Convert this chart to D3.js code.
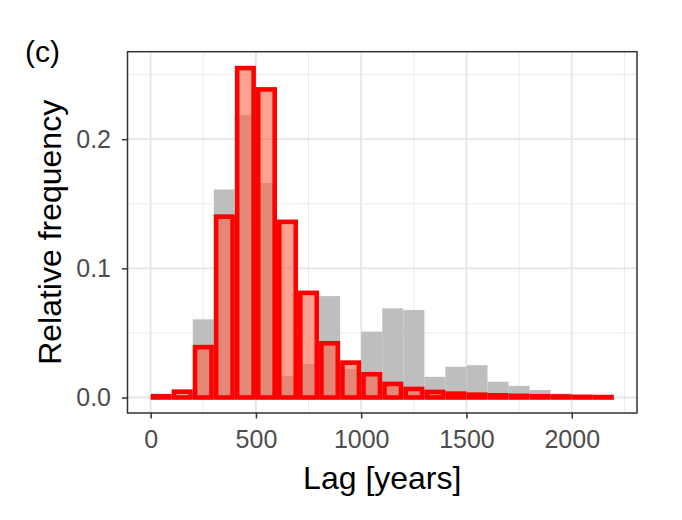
<!DOCTYPE html>
<html>
<head>
<meta charset="utf-8">
<script src="https://cdn.jsdelivr.net/npm/d3@7"></script>
<style>
  body { margin: 0; background: #fff; }
  svg { display: block; font-family: "Liberation Sans", Arial, sans-serif; }
</style>
</head>
<body>
<div id="chart"></div>
<script>
// bin starts (years), each bin is 100 years wide
var binStarts = [0, 100, 200, 300, 400, 500, 600, 700, 800, 900, 1000,
                 1100, 1200, 1300, 1400, 1500, 1600, 1700, 1800, 1900, 2000, 2100];
var binWidth = 100;

// grey histogram (relative frequency)
var greyFreq = [0, 0.001, 0.0605, 0.161, 0.2185, 0.166, 0.0166, 0.026, 0.0785, 0.022, 0.051,
                0.069, 0.0677, 0.016, 0.0238, 0.025, 0.0122, 0.009, 0.0058, 0.003, 0.001, 0];

// red histogram (relative frequency)
var redFreq = [0.001, 0.0045, 0.039, 0.140, 0.255, 0.2385, 0.136, 0.081, 0.042, 0.027, 0.018,
               0.0105, 0.0066, 0.0043, 0.003, 0.0022, 0.0017, 0.0013, 0.001, 0.0008, 0.0005, 0.0003];

var xMajor = [0, 500, 1000, 1500, 2000];
var xMinor = [250, 750, 1250, 1750, 2250];
var yMajor = [0, 0.1, 0.2];
var yMinor = [0.05, 0.15, 0.25];

var width = 682, height = 520;
var panel = { left: 127.5, right: 637, top: 51.7, bottom: 413 };
var strokeW = 4.6;

var svg = d3.select('#chart')
  .append('svg')
  .attr('width', width)
  .attr('height', height);

var x = d3.scaleLinear().domain([-110, 2310]).range([panel.left, panel.right]);
var y = d3.scaleLinear().domain([-0.012, 0.2677]).range([panel.bottom, panel.top]);

// panel background + grid
svg.append('rect')
  .attr('x', panel.left).attr('y', panel.top)
  .attr('width', panel.right - panel.left)
  .attr('height', panel.bottom - panel.top)
  .attr('fill', '#fff');

var grid = svg.append('g').attr('class', 'grid');
grid.selectAll('line.xminor').data(xMinor).enter().append('line')
  .attr('x1', function (d) { return x(d); }).attr('x2', function (d) { return x(d); })
  .attr('y1', panel.top).attr('y2', panel.bottom)
  .attr('stroke', '#ebebeb').attr('stroke-width', 1);
grid.selectAll('line.yminor').data(yMinor).enter().append('line')
  .attr('y1', function (d) { return y(d); }).attr('y2', function (d) { return y(d); })
  .attr('x1', panel.left).attr('x2', panel.right)
  .attr('stroke', '#ebebeb').attr('stroke-width', 1);
grid.selectAll('line.xmajor').data(xMajor).enter().append('line')
  .attr('x1', function (d) { return x(d); }).attr('x2', function (d) { return x(d); })
  .attr('y1', panel.top).attr('y2', panel.bottom)
  .attr('stroke', '#e6e6e6').attr('stroke-width', 1.8);
grid.selectAll('line.ymajor').data(yMajor).enter().append('line')
  .attr('y1', function (d) { return y(d); }).attr('y2', function (d) { return y(d); })
  .attr('x1', panel.left).attr('x2', panel.right)
  .attr('stroke', '#e6e6e6').attr('stroke-width', 1.8);

// grey bars
svg.append('g').selectAll('rect')
  .data(binStarts).enter()
  .append('rect')
  .attr('x', function (d) { return x(d); })
  .attr('width', function (d) { return x(d + binWidth) - x(d); })
  .attr('y', function (d, i) { return y(greyFreq[i]); })
  .attr('height', function (d, i) { return y(0) - y(greyFreq[i]); })
  .attr('fill', '#bebebe');

// red outlined bars
svg.append('g').selectAll('rect')
  .data(binStarts).enter()
  .append('rect')
  .attr('x', function (d) { return x(d) + strokeW / 2; })
  .attr('width', function (d) { return x(d + binWidth) - x(d) - strokeW; })
  .attr('y', function (d, i) { return y(redFreq[i]); })
  .attr('height', function (d, i) { return y(0) - y(redFreq[i]); })
  .attr('fill', '#ff6347')
  .attr('fill-opacity', 0.6)
  .attr('stroke', '#ff0000')
  .attr('stroke-width', strokeW);

// panel border
svg.append('rect')
  .attr('x', panel.left).attr('y', panel.top)
  .attr('width', panel.right - panel.left)
  .attr('height', panel.bottom - panel.top)
  .attr('fill', 'none')
  .attr('stroke', '#333')
  .attr('stroke-width', 1.5);

// axes
var xAxis = svg.append('g')
  .attr('transform', 'translate(0,' + panel.bottom + ')')
  .call(d3.axisBottom(x).tickValues(xMajor).tickSize(5.5).tickPadding(11.5).tickFormat(d3.format('d')));
var yAxis = svg.append('g')
  .attr('transform', 'translate(' + panel.left + ',0)')
  .call(d3.axisLeft(y).tickValues(yMajor).tickSize(5.5).tickPadding(11).tickFormat(d3.format('.1f')));

[xAxis, yAxis].forEach(function (ax) {
  ax.select('.domain').remove();
  ax.selectAll('.tick line').attr('stroke', '#333').attr('stroke-width', 1.5);
  ax.selectAll('.tick text')
    .attr('fill', '#4d4d4d')
    .style('font-size', '25px')
    .style('font-family', '"Liberation Sans", Arial, sans-serif');
});

// axis titles
svg.append('text')
  .attr('x', (panel.left + panel.right) / 2)
  .attr('y', 489)
  .attr('text-anchor', 'middle')
  .style('font-size', '32px')
  .attr('fill', '#000')
  .text('Lag [years]');

svg.append('text')
  .attr('transform', 'translate(61,' + (panel.top + panel.bottom) / 2 + ') rotate(-90)')
  .attr('text-anchor', 'middle')
  .style('font-size', '32px')
  .attr('fill', '#000')
  .text('Relative frequency');

// panel tag
svg.append('text')
  .attr('x', 25)
  .attr('y', 62)
  .style('font-size', '30px')
  .attr('fill', '#000')
  .text('(c)');
</script>
</body>
</html>
